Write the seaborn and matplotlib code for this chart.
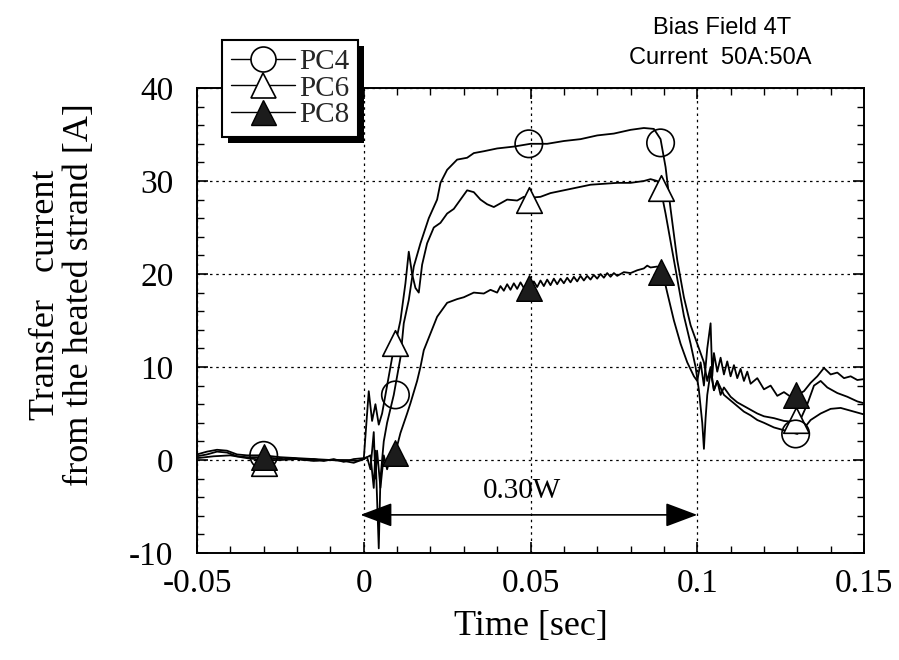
import numpy as np
import pandas as pd
import matplotlib
matplotlib.use("Agg")
import matplotlib.pyplot as plt
from matplotlib.lines import Line2D
from matplotlib.patches import Rectangle
import seaborn as sns

# ---------------- data ----------------
pc4_t = [-0.050, -0.047, -0.044, -0.041, -0.038, -0.035, -0.030, -0.025, -0.020, -0.015,
         -0.010, -0.006, -0.003, 0.000, 0.002, 0.003, 0.0035, 0.0045, 0.005, 0.006,
         0.007, 0.008, 0.009, 0.010, 0.011, 0.012, 0.0135, 0.015, 0.017, 0.0195,
         0.022, 0.023, 0.025, 0.028, 0.031, 0.033, 0.036, 0.040, 0.045, 0.050,
         0.055, 0.060, 0.065, 0.070, 0.075, 0.080, 0.084, 0.087, 0.089, 0.0905,
         0.092, 0.094, 0.096, 0.098, 0.100, 0.102, 0.103, 0.104, 0.105, 0.106,
         0.108, 0.110, 0.112, 0.114, 0.116, 0.118, 0.120, 0.123, 0.126, 0.130,
         0.132, 0.134, 0.137, 0.140, 0.143, 0.146, 0.150]
pc4_i = [0.6, 0.9, 1.1, 1.0, 0.6, 0.5, 0.5, 0.3, 0.2, 0.1,
         0.0, -0.1, -0.3, 0.1, 0.5, -3.0, 1.0, -9.5, -2.0, 2.0,
         4.0, 5.5, 7.0, 9.0, 11.0, 14.7, 17.2, 20.8, 23.3, 26.0,
         28.0, 29.8, 31.2, 32.3, 32.5, 33.0, 33.2, 33.5, 33.7, 34.0,
         34.0, 34.3, 34.5, 34.9, 35.1, 35.5, 35.7, 35.6, 34.5, 31.5,
         27.0, 21.5, 17.5, 14.5, 12.5, 10.5, 8.5, 10.0, 7.5, 8.5,
         7.0, 6.4, 5.8, 5.2, 4.8, 4.3, 4.0, 3.5, 3.2, 2.8,
         3.4, 4.3, 5.0, 5.5, 5.6, 5.3, 4.9]

pc6_t = [-0.050, -0.045, -0.040, -0.035, -0.030, -0.025, -0.020, -0.015, -0.010, -0.005,
         -0.002, 0.000, 0.0015, 0.0025, 0.0035, 0.0045, 0.0055, 0.007, 0.0085, 0.0095,
         0.011, 0.0125, 0.0135, 0.0145, 0.0155, 0.0165, 0.0175, 0.019, 0.021, 0.023,
         0.025, 0.027, 0.029, 0.031, 0.033, 0.035, 0.037, 0.039, 0.041, 0.043,
         0.046, 0.048, 0.050, 0.053, 0.056, 0.060, 0.064, 0.068, 0.072, 0.076,
         0.080, 0.084, 0.086, 0.088, 0.089, 0.0905, 0.092, 0.094, 0.096, 0.098,
         0.0995, 0.1005, 0.1015, 0.102, 0.1025, 0.103, 0.104, 0.105, 0.106, 0.107,
         0.108, 0.110, 0.112, 0.114, 0.116, 0.118, 0.120, 0.123, 0.126, 0.129,
         0.131, 0.133, 0.135, 0.137, 0.139, 0.142, 0.145, 0.148, 0.150]
pc6_i = [0.2, 0.4, 0.5, 0.2, 0.0, 0.0, 0.1, -0.1, 0.0, 0.0,
         -0.1, 0.1, 7.4, 4.2, 6.0, 3.8, 5.0, 8.0, 11.0, 12.5,
         15.0, 19.0, 22.4, 20.0, 18.5, 18.0, 21.0, 23.3, 25.0, 25.5,
         26.5, 27.0, 28.0, 29.0, 28.8, 28.0, 27.5, 27.2, 27.6, 28.0,
         27.9, 28.3, 28.2, 28.3, 28.7, 29.0, 29.3, 29.6, 29.7, 29.8,
         29.8, 30.0, 30.2, 30.0, 29.2, 26.5, 23.5, 19.5, 15.5, 12.5,
         10.0, 7.5, 4.0, 1.2, 4.5, 7.0, 9.5, 7.5, 8.5, 7.0,
         7.8, 6.8, 6.2, 5.8, 5.4, 5.0, 4.7, 4.5, 4.2, 4.1,
         4.4, 6.0, 8.0, 8.5, 7.8, 7.2, 6.8, 6.3, 6.1]

pc8_t = [-0.050, -0.047, -0.044, -0.041, -0.038, -0.035, -0.032, -0.030, -0.027, -0.024,
         -0.021, -0.018, -0.015, -0.012, -0.009, -0.006, -0.003, 0.000, 0.001, 0.002,
         0.003, 0.0035, 0.004, 0.005, 0.006, 0.007, 0.008, 0.009, 0.010, 0.011,
         0.013, 0.014, 0.016, 0.017, 0.018, 0.020, 0.022, 0.025, 0.028, 0.030,
         0.033, 0.036, 0.038, 0.040, 0.041, 0.042, 0.043, 0.044, 0.045, 0.046,
         0.047, 0.048, 0.049, 0.050, 0.051, 0.052, 0.053, 0.054, 0.055, 0.056,
         0.057, 0.058, 0.059, 0.060, 0.061, 0.062, 0.063, 0.064, 0.065, 0.066,
         0.067, 0.068, 0.069, 0.070, 0.071, 0.072, 0.073, 0.074, 0.075, 0.076,
         0.078, 0.080, 0.082, 0.084, 0.085, 0.086, 0.088, 0.0895, 0.091, 0.093,
         0.095, 0.097, 0.099, 0.100, 0.101, 0.102, 0.103, 0.104, 0.1045, 0.105,
         0.106, 0.107, 0.108, 0.109, 0.110, 0.111, 0.112, 0.113, 0.114, 0.115,
         0.116, 0.118, 0.120, 0.122, 0.124, 0.126, 0.128, 0.130, 0.132, 0.134,
         0.136, 0.138, 0.140, 0.142, 0.144, 0.146, 0.148, 0.150]
pc8_i = [0.4, 0.6, 0.9, 0.8, 0.4, 0.3, 0.3, 0.3, 0.2, 0.1,
         0.2, 0.0, 0.1, -0.1, 0.1, -0.2, 0.1, 0.2, 0.3, -1.0,
         3.0, -2.0, 1.0, -3.0, 0.5, -1.0, 0.3, 0.8, 1.5, 2.9,
         5.0, 6.1, 8.5, 10.0, 11.8, 13.6, 15.4, 16.9, 17.3, 17.5,
         18.0, 17.9, 18.3, 18.0, 18.7, 18.2, 18.9, 18.3, 19.0, 18.4,
         19.1, 18.5, 19.0, 18.5, 19.2, 18.6, 19.3, 18.7, 19.4, 18.8,
         19.5, 18.9, 19.5, 19.0, 19.6, 19.1, 19.7, 19.2, 19.8, 19.3,
         19.8, 19.4, 19.9, 19.5, 20.0, 19.6, 20.1, 19.7, 20.1, 19.8,
         20.2, 20.1, 20.4, 20.6, 20.9, 20.7, 20.8, 20.3, 18.0, 15.0,
         12.5, 10.5, 9.0, 8.5, 10.5, 8.0, 12.0, 14.7, 9.0, 11.5,
         9.5, 11.0, 9.2, 10.6, 9.0, 10.2, 8.8, 9.8, 8.5, 9.5,
         8.2, 8.8, 7.6, 8.0, 6.9, 7.3, 6.8, 7.0, 7.4, 8.3,
         9.0, 9.9, 9.2, 9.4, 8.8, 9.0, 8.6, 8.7]

marker_t = [-0.030, 0.0095, 0.0495, 0.089, 0.1295]
pc4_mark = [0.5, 7.0, 34.0, 34.1, 2.8]
pc6_mark = [-0.3, 12.6, 28.0, 29.2, 4.3]
pc8_mark = [0.3, 0.8, 18.5, 20.2, 7.0]

series_names = ["PC4", "PC6", "PC8"]
x_ticks = [-0.05, 0, 0.05, 0.1, 0.15]
x_tick_labels = ["-0.05", "0", "0.05", "0.1", "0.15"]
y_ticks = [-10, 0, 10, 20, 30, 40]
y_tick_labels = ["-10", "0", "10", "20", "30", "40"]
arrow_t = [-0.001, 0.100]
arrow_y = -5.9
arrow_label = "0.30W"

# ---------------- plotting ----------------
sns.set_theme(style="ticks")
plt.rcParams["font.family"] = ["Liberation Serif", "DejaVu Serif"]
plt.rcParams["axes.edgecolor"] = "black"

fig = plt.figure(figsize=(8.99, 6.60), dpi=100)
ax = fig.add_axes([197 / 899, 1 - 553 / 660, (864 - 197) / 899, (553 - 88) / 660])

lines_df = pd.concat([
    pd.DataFrame({"t": pc4_t, "i": pc4_i, "s": "PC4"}),
    pd.DataFrame({"t": pc6_t, "i": pc6_i, "s": "PC6"}),
    pd.DataFrame({"t": pc8_t, "i": pc8_i, "s": "PC8"}),
], ignore_index=True)

for name in series_names:
    sub = lines_df[lines_df["s"] == name]
    sns.lineplot(data=sub, x="t", y="i", sort=False, estimator=None,
                 color="black", linewidth=1.3, ax=ax, zorder=3)

msize = 340
sns.scatterplot(x=marker_t, y=pc6_mark, marker="^", s=msize, facecolor="white",
                edgecolor="black", linewidth=1.2, ax=ax, zorder=4)
sns.scatterplot(x=marker_t, y=pc4_mark, marker="o", s=msize * 1.15, facecolor="none",
                edgecolor="black", linewidth=1.2, ax=ax, zorder=5)
sns.scatterplot(x=marker_t, y=pc8_mark, marker="^", s=msize, facecolor="#1c1c1c",
                edgecolor="black", linewidth=1.0, ax=ax, zorder=6)

# arrow annotation
ax.annotate("", xy=(arrow_t[1], arrow_y), xytext=(arrow_t[0], arrow_y),
            arrowprops=dict(arrowstyle="<|-|>,head_length=0.8,head_width=0.3",
                            color="black", lw=1.2, mutation_scale=25,
                            shrinkA=0, shrinkB=0), zorder=6)
ax.text((arrow_t[0] + arrow_t[1]) / 2 - 0.002, -3.3, arrow_label, ha="center", va="center",
        fontsize=21, color="black")

ax.set_xlim(-0.05, 0.15)
ax.set_ylim(-10, 40)
ax.set_xticks(x_ticks)
ax.set_xticklabels(x_tick_labels)
ax.set_yticks(y_ticks)
ax.set_yticklabels(y_tick_labels)
ax.set_xticks(np.arange(-0.05, 0.1501, 0.01), minor=True)
ax.set_yticks(np.arange(-10, 40.01, 2), minor=True)
ax.tick_params(which="both", direction="in", top=True, right=True, color="black",
               labelsize=24, labelcolor="black")
ax.tick_params(which="major", length=8, width=1.2)
ax.tick_params(which="minor", length=5, width=1.0)
ax.tick_params(axis="x", which="major", pad=11)
ax.tick_params(axis="y", which="major", pad=17)
ax.grid(True, which="major", color="black", linestyle=(0, (2, 3)), linewidth=0.9)
ax.set_axisbelow(True)
for sp in ax.spines.values():
    sp.set_visible(True)
    sp.set_linewidth(1.4)
    sp.set_color("black")

ax.set_xlabel("Time [sec]", fontsize=26, color="black")
ax.xaxis.set_label_coords(0.5, (553 - 610) / 465)
ax.xaxis.label.set_va("top")
ax.set_ylabel("Transfer   current\nfrom the heated strand [A]", fontsize=26,
              color="black", linespacing=1.05)
ax.yaxis.set_label_coords((96 - 197) / 667, (553 - 295) / 465)

fig.text(722 / 899, 1 - 28 / 660, "Bias Field 4T", ha="center", va="center",
         fontsize=17, family="Liberation Sans", color="black")
fig.text(720 / 899, 1 - 58 / 660, "Current  50A:50A", ha="center", va="center",
         fontsize=17, family="Liberation Sans", color="black")

handles = [
    Line2D([], [], color="black", lw=1.0, marker="o", ms=18, mfc="white", mec="black", mew=1.2),
    Line2D([], [], color="black", lw=1.0, marker="^", ms=18, mfc="white", mec="black", mew=1.2),
    Line2D([], [], color="black", lw=1.0, marker="^", ms=18, mfc="#1c1c1c", mec="black", mew=1.0),
]
leg = fig.legend(handles, series_names, loc="upper left",
                 bbox_to_anchor=(222 / 899, 1 - 40 / 660), bbox_transform=fig.transFigure,
                 fontsize=21, frameon=True, fancybox=False, handlelength=2.2,
                 handletextpad=0.15, labelspacing=0.0, borderpad=0.3,
                 borderaxespad=0, framealpha=1)
leg.get_frame().set_edgecolor("black")
leg.get_frame().set_linewidth(1.5)
leg.set_zorder(10)

fig.canvas.draw()
bb = leg.get_window_extent().transformed(fig.transFigure.inverted())
shadow = Rectangle((bb.x0 + 6 / 899, bb.y0 - 6 / 660), bb.width, bb.height,
                   transform=fig.transFigure, facecolor="black", edgecolor="none", zorder=9)
fig.patches.append(shadow)

fig.savefig("out.png", dpi=100, facecolor="white")
